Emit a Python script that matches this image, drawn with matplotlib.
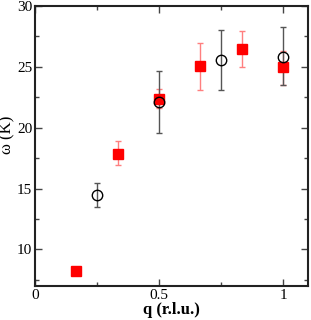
import matplotlib
matplotlib.use("Agg")
import matplotlib.pyplot as plt
from matplotlib.ticker import MultipleLocator

plt.rcParams['font.family'] = ['Liberation Serif', 'DejaVu Serif']

# open circles
q_circ = [0.25, 0.5, 0.75, 1.0]
w_circ = [14.5, 22.1, 25.55, 25.85]
lo_circ = [13.47, 19.6, 23.06, 23.47]
hi_circ = [15.47, 24.65, 28.03, 28.25]

# red squares
q_sq = [1/6, 1/3, 0.5, 2/3, 5/6, 1.0]
w_sq = [8.2, 17.85, 22.4, 25.05, 26.5, 24.95]
lo_sq = [8.2, 16.95, 21.6, 23.1, 25.0, 23.47]
hi_sq = [8.2, 18.9, 23.17, 27.0, 27.98, 26.3]

err_circ = [[w - l for w, l in zip(w_circ, lo_circ)], [h - w for w, h in zip(w_circ, hi_circ)]]
err_sq = [[w - l for w, l in zip(w_sq, lo_sq)], [h - w for w, h in zip(w_sq, hi_sq)]]

fig = plt.figure(figsize=(3.11, 3.20), dpi=100)
ax = fig.add_axes([35/311, 34/320, 273/311, 280/320])

ax.errorbar(q_sq, w_sq, yerr=err_sq, fmt='none', ecolor='#ff7f7f', elinewidth=1.0, capsize=2.5, capthick=1.0, zorder=2)
ax.plot(q_sq, w_sq, 's', color='red', markersize=6.5, zorder=3)
ax.errorbar(q_circ, w_circ, yerr=err_circ, fmt='none', ecolor='#555555', elinewidth=1.0, capsize=2.5, capthick=1.0, zorder=2)
ax.plot(q_circ, w_circ, 'o', markerfacecolor='none', markeredgecolor='black', markeredgewidth=1.0, markersize=7.5, zorder=4)

ax.set_xlim(0, 1.1)
ax.set_ylim(7, 30)
ax.xaxis.set_major_locator(MultipleLocator(0.5))
ax.xaxis.set_minor_locator(MultipleLocator(0.25))
ax.yaxis.set_major_locator(MultipleLocator(5))
ax.yaxis.set_minor_locator(MultipleLocator(2.5))
ax.xaxis.set_major_formatter(plt.FuncFormatter(lambda v, p: f"{v:g}"))

ax.tick_params(which='both', direction='in', top=True, right=True, labelsize=11, width=1.0, color='#444444', pad=2)
ax.tick_params(which='major', length=5)
ax.tick_params(which='minor', length=3)
for s in ax.spines.values():
    s.set_linewidth(1.5)
    s.set_color('#222222')

ax.set_xlabel('q (r.l.u.)', fontsize=12, fontweight='bold', labelpad=0)
ax.set_ylabel('ω (K)', fontsize=12)
ax.yaxis.set_label_coords(-0.07, 0.54)

fig.savefig('out.png', dpi=100)
